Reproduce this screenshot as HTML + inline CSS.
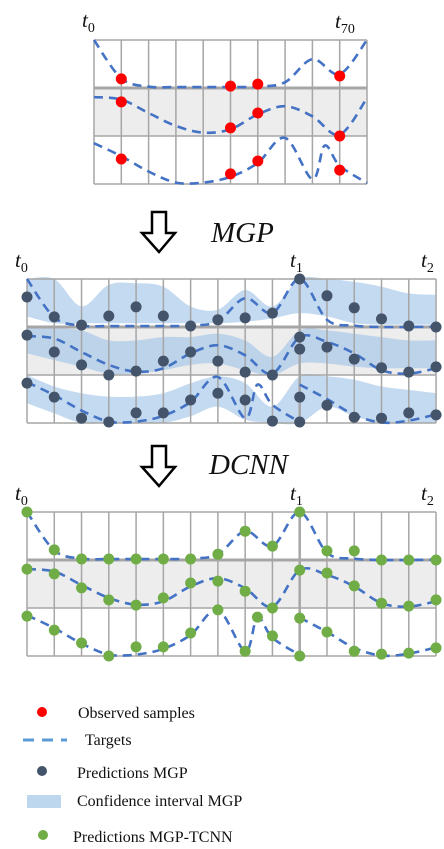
<!DOCTYPE html>
<html><head><meta charset="utf-8"><style>
html,body{margin:0;padding:0;background:#fff;}
svg{display:block;}
text{font-family:"Liberation Serif",serif;fill:#111;}
</style></head><body>
<svg id="s" width="444" height="849" viewBox="0 0 444 849" xmlns="http://www.w3.org/2000/svg">
<g id="layer"></g>
<text x="82" y="27" font-size="21" font-style="italic">t<tspan font-size="14" dy="5" font-style="normal">0</tspan></text>
<text x="335" y="28" font-size="21" font-style="italic">t<tspan font-size="14" dy="5" font-style="normal">70</tspan></text>
<text x="15" y="267" font-size="21" font-style="italic">t<tspan font-size="14" dy="5" font-style="normal">0</tspan></text>
<text x="290" y="267" font-size="21" font-style="italic">t<tspan font-size="14" dy="5" font-style="normal">1</tspan></text>
<text x="421" y="267" font-size="21" font-style="italic">t<tspan font-size="14" dy="5" font-style="normal">2</tspan></text>
<text x="15" y="500" font-size="21" font-style="italic">t<tspan font-size="14" dy="5" font-style="normal">0</tspan></text>
<text x="290" y="500" font-size="21" font-style="italic">t<tspan font-size="14" dy="5" font-style="normal">1</tspan></text>
<text x="421" y="500" font-size="21" font-style="italic">t<tspan font-size="14" dy="5" font-style="normal">2</tspan></text>
<path d="M152,212 H166 V233 H175 L159,252 L142,233 H152 Z" fill="none" stroke="#000" stroke-width="2.5"/>
<text x="211" y="242" font-size="29" font-style="italic">MGP</text>
<path d="M152,446 H166 V467 H175 L159,486 L142,467 H152 Z" fill="none" stroke="#000" stroke-width="2.5"/>
<text x="209" y="474" font-size="29" font-style="italic">DCNN</text>
<g>
<circle cx="42" cy="712" r="5" fill="#ff0000"/>
<text x="78" y="718" font-size="16">Observed samples</text>
<line x1="23" y1="740" x2="67" y2="740" stroke="#5b9bd5" stroke-width="3" stroke-dasharray="11,8"/>
<text x="85" y="745" font-size="16">Targets</text>
<circle cx="42" cy="771" r="5" fill="#44546a"/>
<text x="77" y="778" font-size="16">Predictions MGP</text>
<rect x="27" y="795" width="34" height="13" fill="#bdd7ee"/>
<text x="77" y="806" font-size="16">Confidence interval MGP</text>
<circle cx="43" cy="835" r="5" fill="#70ad47"/>
<text x="73" y="842" font-size="16">Predictions MGP-TCNN</text>
</g>
</svg>
<script>
// targets: [col, fraction of row height]
const targetRow1 = [[0,0],[1,0.8],[2,0.97],[3,0.98],[4,0.98],[5,0.98],[6,0.97],[7,0.88],[8,0.4],[9,0.71],[10,0],[11,0.85],[12,0.97],[13,1],[14,1],[15,0.99]];
const targetRow2 = [[0,0.19],[1,0.24],[2,0.52],[3,0.79],[4,0.93],[5,0.86],[6,0.55],[7,0.38],[8,0.59],[9,0.97],[10,0.21],[11,0.31],[12,0.55],[13,0.9],[14,0.97],[15,0.86]];
const targetRow3a = [[0,0.15],[1,0.42],[2,0.74],[3,0.97],[4,0.97],[5,0.85],[6,0.56],[7,0.04],[8,0.9],[8.45,0.2],[9,0.62],[10,0.98]];
const targetRow3b = [[10,0.2],[11,0.5],[12,0.83],[13,0.99],[14,0.95],[15,0.82]];
const observed = [[0,1,0.81],[0,5,0.96],[0,6,0.92],[0,9,0.75],[1,1,0.29],[1,5,0.83],[1,6,0.52],[1,9,1],[2,1,0.48],[2,5,0.79],[2,6,0.52],[2,9,0.71]];
const mgpRow1 = [0.375,0.79,0.96,0.77,0.58,0.77,0.98,0.85,0.81,0.71,0,0.35,0.6,0.83,0.98,1];
const mgpRow2 = [0.17,0.52,0.79,1,0.92,0.71,0.52,0.71,0.94,1,0.21,0.42,0.67,0.85,0.94,0.83];
const mgpRow3 = [0.17,0.46,0.9,0.98,0.79,0.79,0.52,0.38,0.52,0.96,0.46,0.63,0.88,0.9,0.79,0.83];
const mgpExtra = [[1,10,0.46],[2,10,0.98]];
const tcnnRow1 = [0,0.79,0.98,0.98,0.98,0.98,0.98,0.88,0.4,0.71,0,0.81,0.81,1,1,1];
const tcnnRow2 = [0.19,0.29,0.58,0.83,0.94,0.79,0.48,0.44,0.65,1,0.21,0.27,0.54,0.9,0.96,0.83];
const tcnnRow3 = [0.17,0.46,0.73,1,0.81,0.81,0.52,0.04,0.9,0.58,0.21,0.5,0.9,0.96,0.94,0.83];
const tcnnExtra = [[2,8.45,0.19],[2,10,1]];
// confidence band bounds (fraction of row, may exceed)
const ciUp1 = [0,0,0.57,0.12,0.09,0.16,0.57,0.64,0.23,0.57,0,0,0.06,0.16,0.3,0.33];
const ciLo1 = [0.78,0.92,0.92,0.92,0.92,0.92,0.92,0.92,0.89,0.82,0.71,0.78,0.92,0.95,0.95,0.95];
const ciUp2 = [0.03,0.03,0.07,0.28,0.28,0.21,0.21,0.14,0.28,0.62,0.07,0.07,0.14,0.21,0.28,0.28];
const ciLo2 = [0.55,0.69,0.83,0.97,0.97,0.9,0.79,0.76,0.9,1,0.76,0.76,0.83,0.86,0.86,0.86];
const ciUp3 = [0,0.24,0.38,0.45,0.45,0.38,0.17,0.03,0.17,0.66,0.03,0.03,0.1,0.24,0.31,0.38];
const ciLo3 = [0.59,0.8,1,1,1,1,0.86,0.66,0.93,1,1,0.66,0.86,1,1,1];

const NS='http://www.w3.org/2000/svg';
const layer=document.getElementById('layer');
const panels=[{x0:94,y0:40,cw:27.3,nc:10},{x0:27,y0:279,cw:27.27,nc:15},{x0:27,y0:512,cw:27.27,nc:15}];
const RH=48;
function xs(p,c){return panels[p].x0+c*panels[p].cw;}
function ys(p,r,f){return panels[p].y0+r*RH+f*RH;}
function mk(t,a){const e=document.createElementNS(NS,t);for(const k in a)e.setAttribute(k,a[k]);layer.appendChild(e);return e;}
function smooth(pts){let d='M'+pts[0][0]+','+pts[0][1];for(let i=0;i<pts.length-1;i++){const p0=pts[Math.max(0,i-1)],p1=pts[i],p2=pts[i+1],p3=pts[Math.min(pts.length-1,i+2)];const c1=[p1[0]+(p2[0]-p0[0])/6,p1[1]+(p2[1]-p0[1])/6],c2=[p2[0]-(p3[0]-p1[0])/6,p2[1]-(p3[1]-p1[1])/6];d+=' C'+c1[0].toFixed(1)+','+c1[1].toFixed(1)+' '+c2[0].toFixed(1)+','+c2[1].toFixed(1)+' '+p2[0].toFixed(1)+','+p2[1].toFixed(1);}return d;}
function clampF(f){return Math.max(0,Math.min(1,f));}
function grid(p){const P=panels[p];const x1=xs(p,P.nc),y1=ys(p,3,0);
 const b=mk('rect',{x:P.x0,y:ys(p,1,0),width:x1-P.x0,height:RH,fill:'#ededed'});
 
 
}
function gridLines(p){const P=panels[p];const x1=xs(p,P.nc),y1=ys(p,3,0);
 for(let c=0;c<=P.nc;c++){const l=mk('line',{x1:xs(p,c),y1:P.y0,x2:xs(p,c),y2:y1,stroke:'#a6a6a6','stroke-width':(p>0&&c==10)?2.5:1.5});
  
  }
 for(let r=0;r<=3;r++){const l=mk('line',{x1:P.x0,y1:ys(p,r,0),x2:x1,y2:ys(p,r,0),stroke:'#a6a6a6','stroke-width':r==1?3:1.5});
  
  }
}
function target(p,arr,maxc){const pts=arr.filter(q=>q[0]<=maxc).map(q=>[xs(p,q[0]),0,q[1]]);return pts;}
function drawTargets(p,maxc){const rows=[[0,targetRow1],[1,targetRow2],[2,targetRow3a],[2,targetRow3b]];
 rows.forEach(([r,arr])=>{const pts=arr.filter(q=>q[0]<=maxc).map(q=>[xs(p,q[0]),ys(p,r,clampF(q[1]))]);if(pts.length<2)return;
  const e=mk('path',{d:smooth(pts),fill:'none',stroke:'#4472c4','stroke-width':2.6,'stroke-dasharray':'9,6'});
  
  });
}
function band(p,r,up,lo){const top=up.map((f,c)=>[xs(p,c),ys(p,r,f)]);const bot=lo.map((f,c)=>[xs(p,c),ys(p,r,f)]).reverse();
 let d=smooth(top);d+=' L'+bot[0][0]+','+bot[0][1]+smooth(bot).replace(/^M[^C]*/,' ')+' Z';
 const e=mk('path',{d:d,fill:'#9fc3e7','fill-opacity':0.62});
 
 }
function dot(p,r,c,f,col,name){const e=mk('circle',{cx:xs(p,c),cy:ys(p,r,f),r:5.5,fill:col});
 
 }

// top panel
grid(0);gridLines(0);drawTargets(0,10);
observed.forEach(o=>dot(0,o[0],o[1],o[2],'#ff0000','observed-sample'));
// middle
grid(1);
band(1,0,ciUp1,ciLo1);band(1,1,ciUp2,ciLo2);band(1,2,ciUp3,ciLo3);
gridLines(1);drawTargets(1,15);
[mgpRow1,mgpRow2,mgpRow3].forEach((arr,r)=>arr.forEach((f,c)=>dot(1,r,c,f,'#44546a','mgp-prediction')));
mgpExtra.forEach(o=>dot(1,o[0],o[1],o[2],'#44546a','mgp-prediction'));
// bottom
grid(2);gridLines(2);drawTargets(2,15);
[tcnnRow1,tcnnRow2,tcnnRow3].forEach((arr,r)=>arr.forEach((f,c)=>{const cc=(r==2&&c>=9)?(c==9?9:c):c;dot(2,r,cc,f,'#70ad47','tcnn-prediction');}));
tcnnExtra.forEach(o=>dot(2,o[0],o[1],o[2],'#70ad47','tcnn-prediction'));
</script>
</body></html>
